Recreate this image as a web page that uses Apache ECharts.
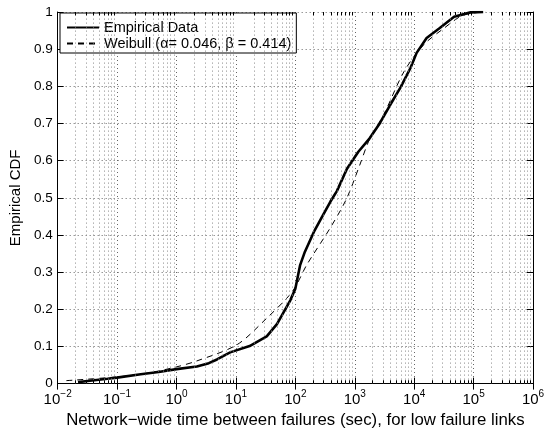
<!DOCTYPE html>
<html>
<head>
<meta charset="utf-8">
<script src="https://cdn.jsdelivr.net/npm/echarts@6/dist/echarts.min.js"></script>
<style>
  html, body { margin: 0; padding: 0; background: #fff; }
  #chart { width: 552px; height: 434px; }
</style>
</head>
<body>
<div id="chart"></div>
<script>
// empirical CDF (x in seconds)
var empX = [0.022, 0.032, 0.069, 0.1, 0.25, 0.5, 1, 2.2, 3.5, 4.8, 8, 17, 33, 49, 81, 100,
    120, 145, 205, 295, 390, 500, 740, 1150, 1780, 2630, 3980, 5900, 8700, 11000, 16200,
    27000, 47000, 89000, 145000];
var empY = [0.004, 0.007, 0.013, 0.016, 0.025, 0.031, 0.039, 0.046, 0.055, 0.065, 0.084, 0.101,
    0.127, 0.16, 0.222, 0.255, 0.318, 0.355, 0.408, 0.455, 0.49, 0.518, 0.578, 0.624, 0.66,
    0.70, 0.751, 0.797, 0.85, 0.89, 0.93, 0.957, 0.987, 0.999, 1.0];

// weibull fit, also
var weiX = [0.014, 0.1, 0.32, 1, 2.2, 10.5, 33, 72, 100, 155, 380, 725, 1200, 1780, 3100,
    6760, 14500, 31600, 67600, 158000];
var weiY = [0.008, 0.018, 0.028, 0.045, 0.061, 0.105, 0.176, 0.23, 0.26, 0.319, 0.417, 0.497,
    0.586, 0.658, 0.725, 0.84, 0.912, 0.956, 0.992, 1.0];

var decades = [0.01, 0.1, 1, 10, 100, 1000, 10000, 100000];
var minorSteps = [2, 3, 4, 5, 6, 7, 8, 9];

var fontName = '"Liberation Sans", Arial, Helvetica, sans-serif';

function toPairs(xs, ys) {
    var out = [];
    for (var i = 0; i < xs.length; i++) {
        out.push([xs[i], ys[i]]);
    }
    return out;
}

// minor log grid lines (2..9 within each decade) + small inward ticks top/bottom
var minorLines = [];
var minorTicks = [];
for (var d = 0; d < decades.length; d++) {
    for (var m = 0; m < minorSteps.length; m++) {
        var v = decades[d] * minorSteps[m];
        minorLines.push({ xAxis: v });
        minorTicks.push([{ coord: [v, 0] }, { coord: [v, 0.009] }]);
        minorTicks.push([{ coord: [v, 1] }, { coord: [v, 0.991] }]);
    }
}

var gridDots = { color: '#666', width: 1, type: [1, 3] };

function expLabel(value) {
    var e = Math.round(Math.log(value) / Math.LN10);
    var s = e < 0 ? '\u2212' + (-e) : '' + e;
    return '10{sup|' + s + '}';
}

var chart = echarts.init(document.getElementById('chart'));

var option = {
    backgroundColor: '#fff',
    animation: false,
    textStyle: { fontFamily: fontName, color: '#000' },
    grid: { left: 56, right: 19, top: 12, bottom: 48 },
    legend: {
        orient: 'vertical',
        left: 60,
        top: 13,
        itemWidth: 32,
        itemHeight: 12,
        itemGap: 1,
        padding: [7, 5, 2, 6],
        borderColor: '#000',
        borderWidth: 1,
        borderRadius: 0,
        backgroundColor: '#fff',
        itemStyle: { color: 'rgba(0,0,0,0)', borderWidth: 0, opacity: 0 },
        textStyle: { fontFamily: fontName, fontSize: 14.5, lineHeight: 14, color: '#000' },
        data: ['Empirical Data', 'Weibull (\u03b1= 0.046, \u03b2 = 0.414)']
    },
    xAxis: [
        {
            type: 'log',
            logBase: 10,
            min: 0.01,
            max: 1000000,
            interval: 1,
            name: 'Network\u2212wide time between failures (sec), for low failure links',
            nameLocation: 'middle',
            nameGap: 28,
            nameTextStyle: { fontFamily: fontName, fontSize: 16.8, color: '#000' },
            axisLine: { lineStyle: { color: '#000', width: 1 } },
            axisTick: { inside: true, length: 6, lineStyle: { color: '#000' } },
            axisLabel: {
                color: '#000',
                fontFamily: fontName,
                fontSize: 15,
                margin: 6,
                formatter: expLabel,
                rich: {
                    sup: { fontSize: 10, fontFamily: fontName, color: '#000', padding: [0, 0, 10, 0] }
                }
            },
            splitLine: { show: true, lineStyle: gridDots }
        },
        {
            type: 'log',
            logBase: 10,
            min: 0.01,
            max: 1000000,
            interval: 1,
            position: 'top',
            axisLine: { lineStyle: { color: '#000', width: 1 } },
            axisTick: { inside: true, length: 6, lineStyle: { color: '#000' } },
            axisLabel: { show: false },
            splitLine: { show: false }
        }
    ],
    yAxis: [
        {
            type: 'value',
            min: 0,
            max: 1,
            interval: 0.1,
            name: 'Empirical CDF',
            nameLocation: 'middle',
            nameGap: 30,
            nameTextStyle: { fontFamily: fontName, fontSize: 15, color: '#000' },
            axisLine: { show: true, lineStyle: { color: '#000', width: 1 } },
            axisTick: { show: true, inside: true, length: 6, lineStyle: { color: '#000' } },
            axisLabel: { color: '#000', fontFamily: fontName, fontSize: 13.5, margin: 5 },
            splitLine: { show: true, lineStyle: gridDots }
        },
        {
            type: 'value',
            min: 0,
            max: 1,
            interval: 0.1,
            position: 'right',
            axisLine: { show: true, lineStyle: { color: '#000', width: 1 } },
            axisTick: { show: true, inside: true, length: 6, lineStyle: { color: '#000' } },
            axisLabel: { show: false },
            splitLine: { show: false }
        }
    ],
    series: [
        {
            name: 'minor-grid',
            type: 'line',
            data: [],
            silent: true,
            markLine: {
                silent: true,
                symbol: 'none',
                label: { show: false },
                lineStyle: { color: '#888', width: 1, type: [1, 3] },
                data: minorLines
            }
        },
        {
            name: 'minor-ticks',
            type: 'line',
            data: [],
            silent: true,
            markLine: {
                silent: true,
                symbol: 'none',
                label: { show: false },
                lineStyle: { color: '#000', width: 1, type: 'solid' },
                data: minorTicks
            }
        },
        {
            name: 'Weibull (\u03b1= 0.046, \u03b2 = 0.414)',
            type: 'line',
            symbol: 'none',
            smooth: 0.3,
            lineStyle: { color: '#000', width: 1, type: [6, 5] },
            itemStyle: { color: '#000' },
            data: toPairs(weiX, weiY),
            z: 3
        },
        {
            name: 'Empirical Data',
            type: 'line',
            symbol: 'none',
            lineStyle: { color: '#000', width: 2.6 },
            itemStyle: { color: '#000' },
            data: toPairs(empX, empY),
            z: 4
        }
    ]
};

chart.setOption(option);
</script>
</body>
</html>
